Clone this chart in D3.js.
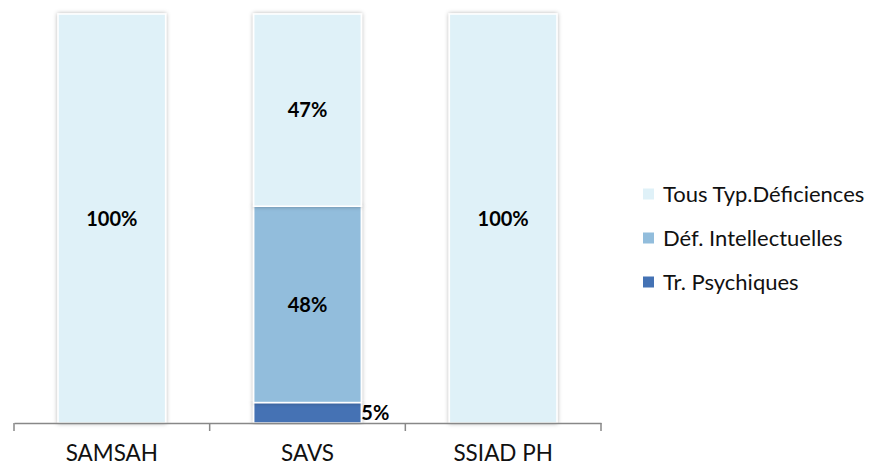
<!DOCTYPE html>
<html>
<head>
<meta charset="utf-8">
<script src="https://cdn.jsdelivr.net/npm/d3@7"></script>
<style>
  body { margin: 0; background: #fff; }
  svg { display: block; font-family: Lato, "Open Sans", sans-serif; }
</style>
</head>
<body>
<div id="chart"></div>
<script>
var categories = ['SAMSAH', 'SAVS', 'SSIAD PH'];
var seriesNames = ['Tr. Psychiques', 'Déf. Intellectuelles', 'Tous Typ.Déficiences'];
var trPsychiques = [0, 5, 0];
var defIntellectuelles = [0, 48, 0];
var tousTypes = [100, 47, 100];
var colors = ['#4472b4', '#92bddc', '#dff1f8'];

(function() {
    var width = 879, height = 468,
        mLeft = 14, mRight = 601, mTop = 14, mBottom = 423;

    var rows = categories.map(function(c, i) {
        return {cat: c, s0: trPsychiques[i], s1: defIntellectuelles[i], s2: tousTypes[i]};
    });
    var stack = d3.stack().keys(['s0', 's1', 's2'])(rows);

    var svg = d3.select('#chart').append('svg')
        .attr('width', width)
        .attr('height', height);

    var filter = svg.append('defs').append('filter')
        .attr('id', 'shadow')
        .attr('x', '-10%').attr('y', '-5%')
        .attr('width', '120%').attr('height', '110%');
    filter.append('feDropShadow')
        .attr('dx', 0).attr('dy', 0)
        .attr('stdDeviation', 2)
        .attr('flood-color', '#000')
        .attr('flood-opacity', 0.3);

    var xScale = d3.scaleBand()
        .domain(categories)
        .range([mLeft, mRight]);
    var barW = xScale.bandwidth() * 0.55;

    var yScale = d3.scaleLinear()
        .domain([0, 100])
        .range([mBottom, mTop]);

    var segH = function(d) { return yScale(d[0]) - yScale(d[1]); };

    // bars
    var layers = svg.append('g').selectAll('g')
        .data(stack)
        .enter()
        .append('g')
        .attr('fill', function(d, i) { return colors[i]; });

    layers.selectAll('rect')
        .data(function(d) { return d.filter(function(p) { return p[1] - p[0] > 0; }); })
        .enter()
        .append('rect')
        .attr('x', function(d) { return xScale(d.data.cat) + (xScale.bandwidth() - barW) / 2; })
        .attr('y', function(d) { return yScale(d[1]); })
        .attr('width', barW)
        .attr('height', segH)
        .attr('stroke', '#fff')
        .attr('stroke-width', 1.5)
        .attr('filter', 'url(#shadow)');

    // value labels (small segments: label just right of the bar)
    svg.append('g').selectAll('g')
        .data(stack)
        .enter()
        .append('g')
        .selectAll('text')
        .data(function(d) { return d.filter(function(p) { return p[1] - p[0] > 0; }); })
        .enter()
        .append('text')
        .attr('x', function(d) {
            return segH(d) < 25 ? xScale(d.data.cat) + (xScale.bandwidth() + barW) / 2
                                : xScale(d.data.cat) + xScale.bandwidth() / 2;
        })
        .attr('y', function(d) { return (yScale(d[0]) + yScale(d[1])) / 2; })
        .attr('dy', '0.36em')
        .attr('text-anchor', function(d) { return segH(d) < 25 ? 'start' : 'middle'; })
        .attr('fill', '#000')
        .style('font-weight', 'bold')
        .style('font-size', '20px')
        .text(function(d) { return (d[1] - d[0]) + '%'; });

    // x axis
    var xAxis = d3.axisBottom(xScale).tickSize(0).tickPadding(22);
    var xx = svg.append('g')
        .attr('transform', 'translate(0,' + mBottom + ')')
        .call(xAxis);
    xx.select('.domain').attr('stroke', '#888').attr('stroke-width', 1.5);
    xx.selectAll('text')
        .style('font-size', '22.5px')
        .style('font-family', 'Lato, sans-serif')
        .attr('fill', '#111');
    xx.selectAll('.sep')
        .data(d3.range(categories.length + 1))
        .enter()
        .append('line')
        .attr('class', 'sep')
        .attr('x1', function(i) { return mLeft + i * xScale.step(); })
        .attr('x2', function(i) { return mLeft + i * xScale.step(); })
        .attr('y1', 0)
        .attr('y2', 8)
        .attr('stroke', '#888')
        .attr('stroke-width', 1.5);

    // legend (top to bottom: reversed series order)
    var legend = svg.append('g').selectAll('g')
        .data(seriesNames.slice().reverse())
        .enter()
        .append('g')
        .attr('transform', function(d, i) { return 'translate(643,' + (194 + i * 44) + ')'; });

    legend.append('rect')
        .attr('x', 0)
        .attr('y', -5.5)
        .attr('width', 11)
        .attr('height', 11)
        .attr('fill', function(d, i) { return colors[colors.length - 1 - i]; });

    legend.append('text')
        .attr('x', 20)
        .attr('dy', '0.36em')
        .style('font-size', '22px')
        .attr('fill', '#111')
        .text(function(d) { return d; });
})();
</script>
</body>
</html>
